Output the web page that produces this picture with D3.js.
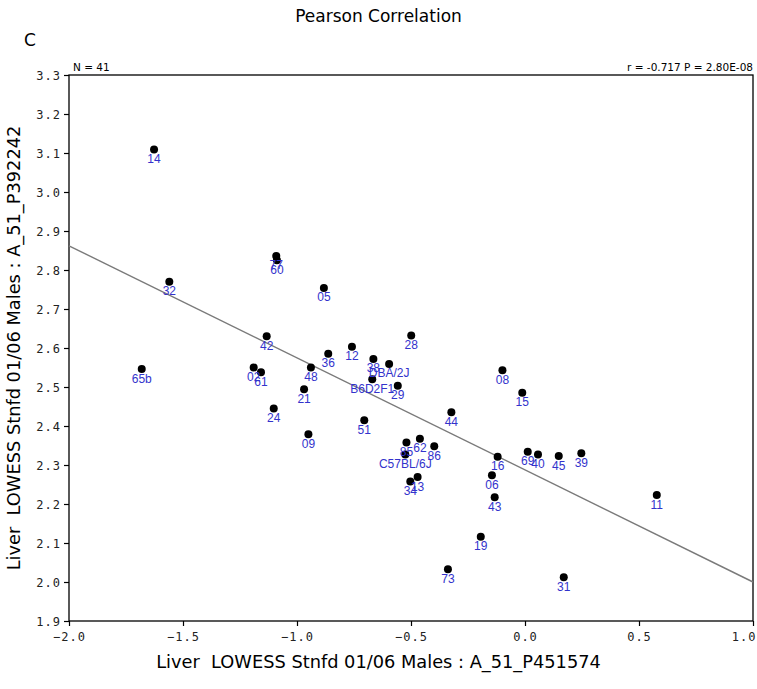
<!DOCTYPE html>
<html>
<head>
<meta charset="utf-8">
<script src="https://cdn.jsdelivr.net/npm/d3@7"></script>
<style>
  html, body { margin: 0; padding: 0; background: #fff; }
  svg { display: block; }
</style>
</head>
<body>
<svg id="chart"></svg>
<script>
// Pearson correlation scatter, strain labels under each dot.
const strains = ['14', '32', '65b', '77', '60', '05', '42', '02', '61', '48',
  '36', '21', '24', '09', '12', '28', '38', 'DBA/2J', 'B6D2F1', '29',
  '51', '44', '85', '62', '86', 'C57BL/6J', '34', '13', '08', '15',
  '16', '06', '69', '40', '45', '39', '43', '19', '73', '31', '11'];
const xVals = [-1.627, -1.560, -1.681, -1.091, -1.088, -0.882, -1.133, -1.190, -1.158, -0.939,
  -0.863, -0.969, -1.102, -0.950, -0.759, -0.499, -0.665, -0.596, -0.670, -0.558,
  -0.705, -0.323, -0.520, -0.461, -0.398, -0.525, -0.503, -0.471, -0.099, -0.012,
  -0.120, -0.145, 0.012, 0.057, 0.148, 0.247, -0.133, -0.194, -0.338, 0.170, 0.578];
const yVals = [3.109, 2.770, 2.546, 2.836, 2.825, 2.754, 2.630, 2.550, 2.538, 2.550,
  2.585, 2.494, 2.445, 2.379, 2.603, 2.632, 2.572, 2.559, 2.520, 2.503,
  2.415, 2.435, 2.358, 2.367, 2.348, 2.327, 2.258, 2.269, 2.543, 2.485,
  2.321, 2.274, 2.334, 2.327, 2.323, 2.330, 2.217, 2.116, 2.033, 2.012, 2.223];

// fitted line, read at the plot edges
const fitX = [-2.0, 1.0];
const fitY = [2.862, 2.0];

const xTicks = [-2.0, -1.5, -1.0, -0.5, 0.0, 0.5, 1.0];
const yTicks = [1.9, 2.0, 2.1, 2.2, 2.3, 2.4, 2.5, 2.6, 2.7, 2.8, 2.9, 3.0, 3.1, 3.2, 3.3];

const W = 757, H = 689;
const m = { left: 69, right: 4, top: 75, bottom: 68 };

const svg = d3.select('#chart').attr('width', W).attr('height', H);

const x = d3.scaleLinear().domain([-2.0, 1.0]).range([m.left, W - m.right]);
const y = d3.scaleLinear().domain([1.9, 3.3]).range([H - m.bottom, m.top]);

const sans = 'DejaVu Sans, Verdana, sans-serif';
const mono = 'DejaVu Sans Mono, monospace';

// titles
svg.append('text').attr('x', W / 2).attr('y', 22).attr('text-anchor', 'middle')
  .style('font-family', sans).style('font-size', '17px').text('Pearson Correlation');
svg.append('text').attr('x', 24).attr('y', 46)
  .style('font-family', sans).style('font-size', '17px').text('C');
svg.append('text').attr('x', m.left + 4).attr('y', 71)
  .style('font-family', sans).style('font-size', '10.5px').text('N = 41');
svg.append('text').attr('x', W - m.right).attr('y', 71).attr('text-anchor', 'end')
  .style('font-family', sans).style('font-size', '10.5px').text('r = -0.717 P = 2.80E-08');

// frame
svg.append('rect')
  .attr('x', m.left).attr('y', m.top)
  .attr('width', W - m.left - m.right).attr('height', H - m.top - m.bottom)
  .attr('fill', 'none').attr('stroke', '#000').attr('stroke-width', 1.3);

// axes
const xAxis = svg.append('g').attr('transform', `translate(0,${H - m.bottom})`)
  .call(d3.axisBottom(x).tickValues(xTicks).tickFormat(d3.format('.1f')).tickSize(5).tickSizeOuter(0));
const yAxis = svg.append('g').attr('transform', `translate(${m.left},0)`)
  .call(d3.axisLeft(y).tickValues(yTicks).tickFormat(d3.format('.1f')).tickSize(5).tickSizeOuter(0));
[xAxis, yAxis].forEach(a => {
  a.select('.domain').remove();
  a.selectAll('line').attr('stroke', '#000').attr('stroke-width', 1.2);
  a.selectAll('text').style('font-family', mono).style('font-size', '12px')
    .style('letter-spacing', '1px').attr('fill', '#222');
});
xAxis.selectAll('text').attr('dy', '1em');
// last label would run off the window edge
xAxis.selectAll('.tick').filter(d => d === 1.0).select('text')
  .attr('text-anchor', 'end').attr('x', 3);
yAxis.selectAll('text').attr('dy', '0.35em');

// axis titles
svg.append('text').attr('x', W / 2).attr('y', 668).attr('text-anchor', 'middle')
  .style('font-family', sans).style('font-size', '17.8px').attr('xml:space', 'preserve')
  .text('Liver  LOWESS Stnfd 01/06 Males : A_51_P451574');
svg.append('text').attr('transform', `translate(20,${(m.top + H - m.bottom) / 2}) rotate(-90)`)
  .attr('text-anchor', 'middle').attr('xml:space', 'preserve')
  .style('font-family', sans).style('font-size', '17.8px')
  .text('Liver  LOWESS Stnfd 01/06 Males : A_51_P392242');

// regression line
svg.append('line')
  .attr('x1', x(fitX[0])).attr('y1', y(fitY[0]))
  .attr('x2', x(fitX[1])).attr('y2', y(fitY[1]))
  .attr('stroke', '#7a7a7a').attr('stroke-width', 1.4);

const pts = strains.map((s, i) => ({ s, x: xVals[i], y: yVals[i] }));

svg.append('g').selectAll('circle').data(pts).enter().append('circle')
  .attr('cx', d => x(d.x)).attr('cy', d => y(d.y)).attr('r', 4).attr('fill', '#000');

svg.append('g').selectAll('text').data(pts).enter().append('text')
  .attr('x', d => x(d.x)).attr('y', d => y(d.y) + 13.5).attr('text-anchor', 'middle')
  .style('font-family', 'Liberation Sans, Arial, sans-serif').style('font-size', '12px')
  .attr('fill', '#3333cc').text(d => d.s);
</script>
</body>
</html>
